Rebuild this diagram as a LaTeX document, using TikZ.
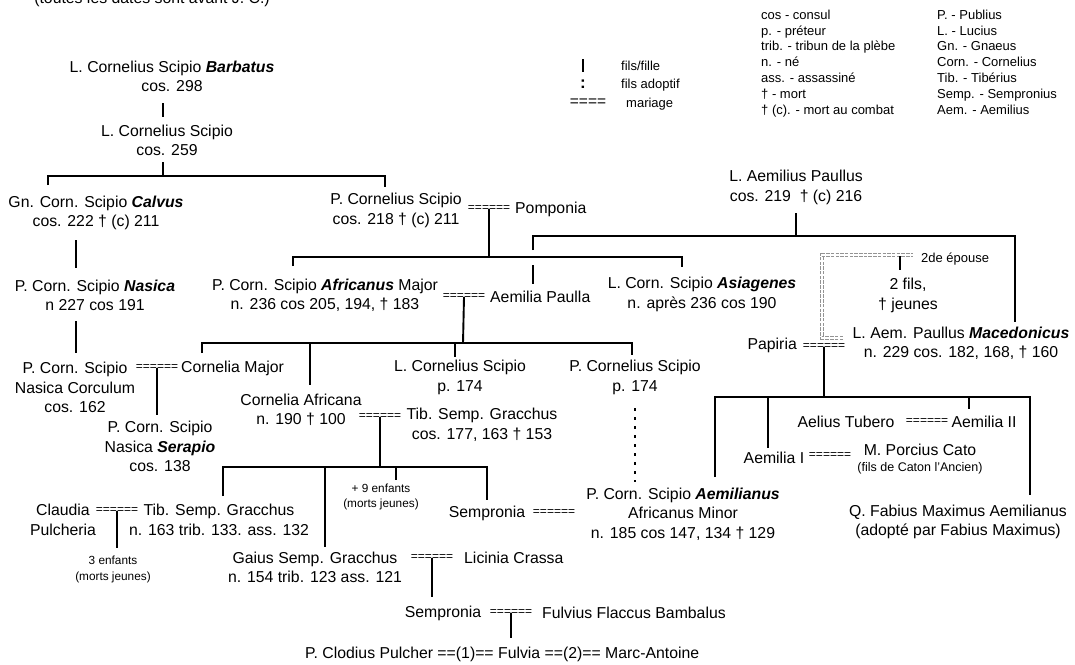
\documentclass[tikz,border=0pt]{standalone}
\usepackage{fontspec}
\setmainfont{Liberation Sans}
\newcommand\bfit[1]{\textbf{\textit{#1}}}
\begin{document}
\begin{tikzpicture}[x=1pt,y=-1pt,
  t/.style={font=\fontsize{15.8}{19.5}\selectfont, align=center, inner sep=0pt},
  lg/.style={font=\fontsize{13}{15.9}\selectfont, align=left, inner sep=0pt, anchor=north west},
  lgs/.style={font=\fontsize{13}{15.9}\selectfont, inner sep=0pt, anchor=west},
  sm/.style={font=\fontsize{11.8}{15.5}\selectfont, align=center, inner sep=0pt},
  smb/.style={font=\fontsize{12.5}{15}\selectfont, inner sep=0pt},
  mar/.style={font=\fontsize{12}{12}\selectfont, inner sep=0pt},
  ln/.style={line width=1.9pt},
  adopt/.style={line width=2.2pt, dash pattern=on 2.5pt off 6.5pt},
  second/.style={draw=gray!85, line width=1.2pt, double=white, double distance=1.1pt, dash pattern=on 3.5pt off 1.2pt},
]
\useasboundingbox[fill=white] (0,0) rectangle (1075,664);

% title (cut at the top, as in the reference)
\node[t, anchor=base] (title) at (152,3.5) {(toutes les dates sont avant J. C.)};

% legend
\node[lg] (leg1) at (761,9.5) {cos - consul\\p. - préteur\\trib. - tribun de la plèbe\\n. - né\\ass. - assassiné\\† - mort\\† (c). - mort au combat};
\node[lg] (leg2) at (937,9.5) {P. - Publius\\L. - Lucius\\Gn. - Gnaeus\\Corn. - Cornelius\\Tib. - Tibérius\\Semp. - Sempronius\\Aem. - Aemilius};
\coordinate (k1a) at (583,59);
\coordinate (k1b) at (583,72);
\draw[line width=2.6pt] (k1a) -- (k1b);
\node[lgs] (kfils) at (621,66) {fils/fille};
\node[font=\fontsize{17}{17}\selectfont\bfseries, inner sep=0pt] (kcolon) at (583,84) {:};
\node[lgs] (kadopt) at (621,85) {fils adoptif};
\node[font=\fontsize{15.5}{15}\selectfont, inner sep=0pt] (kmar) at (588,103) {====};
\node[lgs] (kmariage) at (626,104) {mariage};

% people
\node[t] (barbatus) at (172,76.5) {L. Cornelius Scipio \bfit{Barbatus}\\cos. 298};
\node[t] (lcs259) at (167,140.5) {L. Cornelius Scipio\\cos. 259};
\node[t] (calvus) at (96,213) {Gn. Corn. Scipio \bfit{Calvus}\\cos. 222 † (c) 211};
\node[t] (pcs218) at (396,210.5) {P. Cornelius Scipio\\cos. 218 † (c) 211};
\node[mar] (m1) at (489,209) {======};
\node[t, anchor=west] (pomponia) at (515,209) {Pomponia};
\node[t] (nasica) at (95,295.5) {P. Corn. Scipio \bfit{Nasica}\\n 227 cos 191};
\node[t] (africanus) at (325,295.5) {P. Corn. Scipio \bfit{Africanus} Major\\n. 236 cos 205, 194, † 183};
\node[mar] (m2) at (464,297) {======};
\node[t, anchor=west] (paulla) at (490,297) {Aemilia Paulla};
\node[t] (asiagenes) at (702,294.5) {L. Corn. Scipio \bfit{Asiagenes}\\n. après 236 cos 190};
\node[t] (aemilius) at (796,187.5) {L. Aemilius Paullus\\cos. 219 \ † (c) 216};
\node[t] (deuxfils) at (908,295.5) {2 fils,\\† jeunes};
\node[font=\fontsize{13}{15}\selectfont, inner sep=0pt, anchor=west] (epouse) at (921,259) {2de épouse};
\node[t] (macedonicus) at (961,343.5) {L. Aem. Paullus \bfit{Macedonicus}\\n. 229 cos. 182, 168, † 160};
\node[t, anchor=east] (papiria) at (797,345) {Papiria};
\node[mar] (m3) at (824,347) {======};
\node[t] (corculum) at (75,387.5) {P. Corn. Scipio\\Nasica Corculum\\cos. 162};
\node[mar] (m4) at (157,368) {======};
\node[t, anchor=west] (cmajor) at (181,368) {Cornelia Major};
\node[t] (serapio) at (160,446.5) {P. Corn. Scipio\\Nasica \bfit{Serapio}\\cos. 138};
\node[t] (cafricana) at (301,410) {Cornelia Africana\\n. 190 † 100};
\node[mar] (m5) at (380,417) {======};
\node[t] (tibsr) at (482,425) {Tib. Semp. Gracchus\\cos. 177, 163 † 153};
\node[t] (lcs174) at (460,377.5) {L. Cornelius Scipio\\p. 174};
\node[t] (pcs174) at (635,377.5) {P. Cornelius Scipio\\p. 174};
\node[sm] (neuf) at (381,497) {+ 9 enfants\\(morts jeunes)};
\node[t] (sempronia1) at (487,513) {Sempronia};
\node[mar] (m6) at (554,513) {======};
\node[t] (aemilianus) at (683,514) {P. Corn. Scipio \bfit{Aemilianus}\\Africanus Minor\\n. 185 cos 147, 134 † 129};
\node[t] (claudia) at (63,520) {Claudia\\Pulcheria};
\node[mar] (m7) at (117,511) {======};
\node[t] (tibjr) at (219,520) {Tib. Semp. Gracchus\\n. 163 trib. 133. ass. 132};
\node[sm] (trois) at (113,569.5) {3 enfants\\(morts jeunes)};
\node[t] (gaius) at (315,567.5) {Gaius Semp. Gracchus\\n. 154 trib. 123 ass. 121};
\node[mar] (m8) at (432,558) {======};
\node[t, anchor=west] (licinia) at (464,558) {Licinia Crassa};
\node[t] (sempronia2) at (443,613) {Sempronia};
\node[mar] (m9) at (511,613) {======};
\node[t, anchor=west] (fulvius) at (542,613) {Fulvius Flaccus Bambalus};
\node[t, anchor=west] (clodius) at (305,654) {P. Clodius Pulcher ==(1)== Fulvia ==(2)== Marc-Antoine};
\node[t] (tubero) at (846,422) {Aelius Tubero};
\node[mar] (m10) at (927,422) {======};
\node[t] (aemilia2) at (984,422) {Aemilia II};
\node[t] (aemilia1) at (774,458) {Aemilia I};
\node[mar] (m11) at (830,456) {======};
\node[t] (cato) at (920,450) {M. Porcius Cato};
\node[smb] (catonote) at (920,468) {(fils de Caton l'Ancien)};
\node[t] (fabius) at (958,522) {Q. Fabius Maximus Aemilianus\\(adopté par Fabius Maximus)};

% connectors
\coordinate (c1a) at (163,103); \coordinate (c1b) at (163,117);
\draw[ln] (c1a) -- (c1b);
\coordinate (c2a) at (163,162); \coordinate (c2j) at (163,176);
\coordinate (c2l) at (48,176); \coordinate (c2lb) at (48,185);
\coordinate (c2r) at (385,176); \coordinate (c2rb) at (385,187);
\draw[ln] (c2a) -- (c2j);
\draw[ln] (c2lb) -- (c2l) -- (c2r) -- (c2rb);
\coordinate (c3a) at (76,240); \coordinate (c3b) at (76,268);
\draw[ln] (c3a) -- (c3b);
\coordinate (c4a) at (76,321); \coordinate (c4b) at (76,353);
\draw[ln] (c4a) -- (c4b);

\coordinate (c5j) at (489,257);
\coordinate (c5l) at (293,257); \coordinate (c5lb) at (293,266);
\coordinate (c5r) at (682,257); \coordinate (c5rb) at (682,267);
\draw[ln] (m1.center) -- (c5j);
\draw[ln] (c5lb) -- (c5l) -- (c5r) -- (c5rb);

\coordinate (c6a) at (796,213); \coordinate (c6j) at (796,236);
\coordinate (c6l) at (533,236); \coordinate (c6lb) at (533,250);
\coordinate (c6r) at (1015,236); \coordinate (c6rb) at (1015,322);
\coordinate (c6c) at (533,265); \coordinate (c6d) at (533,284);
\draw[ln] (c6a) -- (c6j);
\draw[ln] (c6lb) -- (c6l) -- (c6r) -- (c6rb);
\draw[ln] (c6c) -- (c6d);

\coordinate (c7j) at (463,343);
\coordinate (c7a) at (202,343); \coordinate (c7ab) at (202,353);
\coordinate (c7b) at (310,343); \coordinate (c7bb) at (310,385);
\coordinate (c7c) at (455,343); \coordinate (c7cb) at (455,357);
\coordinate (c7d) at (632,343); \coordinate (c7db) at (632,355);
\draw[ln] (m2.center) -- (c7j);
\draw[ln] (c7ab) -- (c7a) -- (c7d) -- (c7db);
\draw[ln] (c7b) -- (c7bb);
\draw[ln] (c7c) -- (c7cb);

\coordinate (c8) at (157,415);
\draw[ln] (m4.center) -- (c8);

\coordinate (c9j) at (380,467);
\coordinate (c9a) at (223,467); \coordinate (c9ab) at (223,496);
\coordinate (c9b) at (325,467); \coordinate (c9bb) at (325,547);
\coordinate (c9c) at (396,467); \coordinate (c9cb) at (396,480);
\coordinate (c9d) at (487,467); \coordinate (c9db) at (487,500);
\draw[ln] (m5.center) -- (c9j);
\draw[ln] (c9ab) -- (c9a) -- (c9d) -- (c9db);
\draw[ln] (c9b) -- (c9bb);
\draw[ln] (c9c) -- (c9cb);

\coordinate (c10a) at (635,408); \coordinate (c10b) at (635,482);
\draw[adopt] (c10a) -- (c10b);

\coordinate (c11) at (117,548);
\draw[ln] (m7.center) -- (c11);
\coordinate (c12) at (432,597);
\draw[ln] (m8.center) -- (c12);
\coordinate (c13) at (511,638);
\draw[ln] (m9.center) -- (c13);

\coordinate (c14j) at (824,397);
\coordinate (c14a) at (715,397); \coordinate (c14ab) at (715,477);
\coordinate (c14b) at (768,397); \coordinate (c14bb) at (768,448);
\coordinate (c14c) at (969,397); \coordinate (c14cb) at (969,409);
\coordinate (c14d) at (1030,397); \coordinate (c14db) at (1030,495);
\draw[ln] (m3.center) -- (c14j);
\draw[ln] (c14ab) -- (c14a) -- (c14d) -- (c14db);
\draw[ln] (c14b) -- (c14bb);
\draw[ln] (c14c) -- (c14cb);

\coordinate (c15a) at (843,338); \coordinate (c15b) at (822,338);
\coordinate (c15c) at (822,255); \coordinate (c15d) at (913,255);
\draw[second] (c15a) -- (c15b) -- (c15c) -- (c15d);
\coordinate (c15e) at (900,256); \coordinate (c15f) at (900,270);
\draw[ln] (c15e) -- (c15f);
\end{tikzpicture}
\end{document}
